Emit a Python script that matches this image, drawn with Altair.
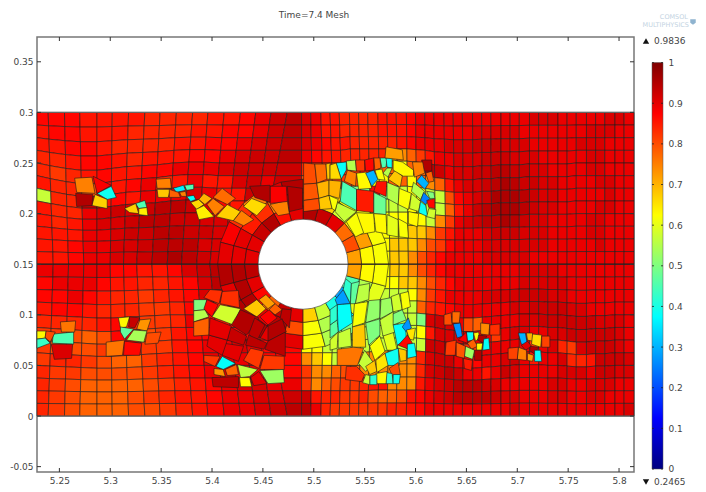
import math
import altair as alt

alt.data_transformers.disable_max_rows()

TITLE = "Time=7.4  Mesh"
X_TICKS = [5.25, 5.3, 5.35, 5.4, 5.45, 5.5, 5.55, 5.6, 5.65, 5.7, 5.75, 5.8]
Y_TICKS = [-0.05, 0, 0.05, 0.1, 0.15, 0.2, 0.25, 0.3, 0.35]
BAR_TICKS = [0, 0.1, 0.2, 0.3, 0.4, 0.5, 0.6, 0.7, 0.8, 0.9, 1]
VMAX, VMIN = 0.9836, 0.2465
JET_VALUES = [0, 0.125, 0.375, 0.625, 0.875, 1]
JET_COLORS = ["#00007f", "#0000ff", "#00ffff", "#ffff00", "#ff0000", "#7f0000"]

# mesh column lines at the top/bottom edges and on the mid line y=0.15
LEFT_TOP = [5.228, 5.239, 5.255, 5.270, 5.287, 5.302, 5.318, 5.334, 5.349, 5.365, 5.381, 5.396, 5.412, 5.428, 5.443, 5.458, 5.474, 5.488]
LEFT_MID = [5.228, 5.244, 5.259, 5.274, 5.287, 5.300, 5.313, 5.326, 5.341, 5.356, 5.370, 5.385, 5.398, 5.411, 5.424, 5.437, 5.446, 5.488]
RIGHT_TOP = [5.497, 5.507, 5.516, 5.525, 5.535, 5.544, 5.553, 5.563, 5.572, 5.581, 5.591, 5.600, 5.609, 5.618, 5.628, 5.637, 5.646, 5.656, 5.665, 5.674, 5.684, 5.693, 5.702, 5.712, 5.721, 5.730, 5.740, 5.749, 5.758, 5.768, 5.777, 5.786, 5.796, 5.805, 5.8147]
RIGHT_MID = [5.500, 5.511, 5.521, 5.530, 5.539, 5.548, 5.557, 5.566, 5.575, 5.584, 5.593, 5.602, 5.611, 5.620, 5.630, 5.639, 5.648, 5.657, 5.666, 5.675, 5.684, 5.693, 5.702, 5.712, 5.721, 5.730, 5.740, 5.749, 5.758, 5.768, 5.777, 5.786, 5.796, 5.805, 5.8147]
ROW_LINES = [0.3, 0.2875, 0.275, 0.2625, 0.25, 0.2375, 0.225, 0.2125, 0.2, 0.1875, 0.175, 0.1625, 0.15, 0.1375, 0.125, 0.1125, 0.1, 0.0875, 0.075, 0.0625, 0.05, 0.0375, 0.025, 0.0125, 0.0]
ROW_WEIGHT = [0, .25, .5, .7, .9, 1, 1, .9, .7, .5, .3, .15, 0, .15, .4, .6, .8, 1, 1, .9, .7, .5, .3, .15, 0]
UPPER_SAG = [0, -.003, -.006, -.008, -.008, -.006, -.004, -.003, -.002, 0, .001, .001, 0, 0, 0, 0, 0, 0,
             0, 0, 0, 0, .002, .002, .002, .002, .002, .002, .002, .001, 0, -.002, -.003, -.004, -.004, -.004, -.003, -.003, -.002, -.002, -.002, -.001, -.001, -.001, -.001, -.001, 0, 0, 0, 0, 0, 0, 0]
LOWER_SAG = [0, -.001, -.002, -.003, -.004, -.004, -.003, -.002, -.001, 0, 0, 0, 0, 0, 0, 0, 0, 0,
             0, 0, 0, 0, 0, 0, .001, .002, .002, .002, .002, .002, .001, 0, -.002, -.003, -.004, -.004, -.003, -.002, -.001, 0, .001, .001, .001, 0, 0, -.001, -.002, -.002, -.001, -.001, 0, 0, 0]

LEVELS = {"a": .78, "b": .80, "c": .82, "d": .84, "e": .855, "f": .87, "g": .895, "h": .912, "i": .925, "j": .94, "k": .955,
          "Y": .625, "G": .68, "O": .74, "L": .57, "M": .5, "C": .38}

LEFT_CELLS = [
    "fffeeeeddddeefgij",
    "effeeeddddeeffgij",
    "eeffeddddeeffghij",
    "ddeffedeeeffghiij",
    "dcdefeeffggghiiii",
    "eddbfefgdegeehigi",
    "Lddiefeggghgeeihi",
    "eddghihijjihfefhi",
    "edeghhijjiihhfghi",
    "eeegghiijjiihghhh",
    "eefgghhijjjhhggii",
    "eefgghhijkjihghii",
    "gggggffeefhijkjih",
    "fgggfeeddefhjjihh",
    "ffgfeddcdefhihgee",
    "effedddccdfgdeeee",
    "ddddefdccdgfeeeee",
    "ccbabfgbceffgffee",
    "cbbbcedccefgghgff",
    "cddcbaacdefggghff",
    "dccbbbbcdefghfgff",
    "dcbaaaabcdefghhgg",
    "dcbaaabcdeefgghhi",
    "dcbaaabbcdefgghij",
]
RIGHT_CELLS = [
    "hgeeddddeeefgggggggggggghhhggggghhgg",
    "hgeeddddeeefgggggghhhhhggggggghhhgg",
    "hgfeedddddefggghhhiiihhhggggghhhggg",
    "gfeedddddOOacegghhhiiihhhggggghhggg",
    "dccbdceeaaYaajighhiijjiihhgggghhggg",
    "bbcccbbYYaaYaOaeghhijkjiihhgggghhgg",
    "aaaaMMMfMLLYYLLbfghikkkjihhggggghgg",
    "aaaaMMMMLLLYYLLaegijkkkjihhgggghhgg",
    "aaaaYYYYYYYYYLOcghijjkjihhgggghhggg",
    "aaaaaYYYYYYGGOceggghiiihhhgggghhggg",
    "aabaaaOOYGGGObcfggghhhhhhhggggghggg",
    "aaaaaOGYYGGObdfgggghhhhhggggggggggg",
    "aaaaaaGYYGGObdfgggggggghhhhgggggggg",
    "aaaaaaYYYYGGObdfggggggghhhhhggggggg",
    "aaaaaaLLLLLYOcegggghhhhiiihhggggggg",
    "LLLLLLLLLLLLadefgggggghhiiiihhggggg",
    "GLMCMLLLLLLLMhihgbagggghhiiiiiihhhg",
    "YLLMCLLLLLLLYehhhiggcghhgghhiiiiihg",
    "YYLLLLLLLLLLLiiigdcgggggcghdchiiihg",
    "OGYLLLOOOOOOdhiigffgghigegghddeiiih",
    "cOOabaOOOOOOdhijiggegihgggghhhgiihh",
    "cOabccdeeOOOeghijjjihggggghhgghhhgg",
    "ieddccdbaabefghijjjjihhggghhgghhggg",
    "jgdccccccddefggggggggghgggggggggggh",
]

# rings of elements round the cylinder
CYL_X, CYL_Y = 5.4895, 0.15
RING_RADII = [0.043, 0.0575, 0.0705, 0.084]
RING_ANGLES = [0, 15, 30, 45, 60, 75, 90, 105, 120, 135, 150, 165, 180, 195, 210, 225, 240, 255, 270, 285, 300, 315, 330, 345, 360]
RING_1 = [.72, .8, .77, .9, .93, .95, .9, .86, .95, .93, .9, .9, .94, .9, .87, .78, .93, .9, .67, .57, .4, .28, .45, .72]
RING_2 = [.63, .72, .64, .58, .67, .75, .95, .76, .83, .85, .9, .9, .95, .95, .95, .9, .94, .8, .62, .55, .38, .6, .55, .63]
RING_3 = [.62, .62, .62, .62, .68, .8, .95, .9, .75, .83, .88, .9, .95, .9, .95, .95, .9, .9, .62, .55, .5, .55, .6, .62]

# irregular elements: (value, x vertices, y vertices)
PATCHES_UPPER_LEFT = [
    (.39, (5.287, 5.301, 5.306, 5.297), (.220, .227, .216, .214)),
    (.67, (5.285, 5.297, 5.297, 5.282), (.219, .214, .205, .208)),
    (.45, (5.325, 5.334, 5.336, 5.328), (.210, .213, .206, .205)),
    (.67, (5.314, 5.325, 5.328, 5.319), (.205, .210, .200, .201)),
    (.64, (5.328, 5.336, 5.337, 5.328), (.205, .206, .198, .199)),
    (.75, (5.265, 5.282, 5.285, 5.267), (.235, .236, .220, .221)),
    (.88, (5.283, 5.301, 5.287), (.237, .228, .220)),
    (.95, (5.266, 5.283, 5.282, 5.267), (.220, .219, .208, .207)),
    (.75, (5.345, 5.359, 5.360, 5.346), (.234, .235, .225, .225)),
    (.68, (5.346, 5.359, 5.357, 5.347), (.224, .224, .216, .216)),
    (.36, (5.362, 5.372, 5.374, 5.365), (.225, .228, .223, .221)),
    (.45, (5.373, 5.382, 5.382, 5.375), (.228, .229, .224, .223)),
    (.78, (5.358, 5.367, 5.369, 5.358), (.224, .221, .216, .216)),
    (.75, (5.368, 5.374, 5.375, 5.370), (.221, .222, .217, .217)),
    (.38, (5.375, 5.382, 5.384, 5.379), (.217, .218, .214, .212)),
    (.66, (5.379, 5.387, 5.392, 5.385), (.211, .214, .209, .204)),
    (.64, (5.384, 5.392, 5.402, 5.387), (.204, .208, .197, .194)),
    (.70, (5.387, 5.392, 5.400, 5.393), (.214, .220, .215, .209)),
    (.75, (5.395, 5.401, 5.412, 5.403), (.209, .215, .207, .198)),
    (.67, (5.404, 5.415, 5.428, 5.421), (.197, .209, .202, .193)),
    (.66, (5.431, 5.439, 5.454, 5.444), (.207, .215, .209, .198)),
    (.75, (5.421, 5.429, 5.441, 5.431), (.193, .203, .194, .188)),
    (.75, (5.457, 5.474, 5.476, 5.465), (.209, .213, .200, .198)),
    (.77, (5.401, 5.410, 5.423, 5.415), (.216, .225, .215, .209)),
    (.88, (5.457, 5.473, 5.474, 5.457), (.227, .227, .212, .210)),
    (.95, (5.437, 5.457, 5.457, 5.442), (.227, .228, .211, .216)),
    (.95, (5.474, 5.489, 5.489, 5.476), (.227, .225, .205, .202)),
]
PATCHES_UPPER_RIGHT = [
    (.80, (5.490, 5.501, 5.503, 5.490), (.250, .249, .230, .229)),
    (.77, (5.501, 5.512, 5.513, 5.503), (.249, .249, .234, .230)),
    (.79, (5.490, 5.503, 5.505, 5.490), (.229, .230, .215, .213)),
    (.70, (5.503, 5.515, 5.515, 5.505), (.230, .233, .218, .215)),
    (.80, (5.490, 5.505, 5.506, 5.490), (.213, .215, .204, .202)),
    (.68, (5.505, 5.515, 5.518, 5.506), (.215, .218, .205, .204)),
    (.68, (5.512, 5.516, 5.516, 5.513), (.249, .250, .234, .234)),
    (.38, (5.522, 5.532, 5.532, 5.527), (.250, .251, .243, .234)),
    (.55, (5.532, 5.541, 5.542, 5.533), (.252, .253, .242, .243)),
    (.75, (5.533, 5.542, 5.541, 5.530), (.243, .240, .227, .232)),
    (.63, (5.542, 5.552, 5.557, 5.544), (.240, .241, .225, .224)),
    (.30, (5.551, 5.559, 5.563, 5.557), (.240, .243, .234, .227)),
    (.86, (5.562, 5.572, 5.571, 5.559), (.232, .232, .217, .222)),
    (.62, (5.560, 5.567, 5.570, 5.563), (.243, .244, .233, .234)),
    (.45, (5.565, 5.572, 5.571, 5.567), (.255, .255, .246, .245)),
    (.39, (5.571, 5.577, 5.577, 5.572), (.255, .255, .245, .246)),
    (.55, (5.572, 5.577, 5.573, 5.568), (.245, .245, .236, .240)),
    (.45, (5.528, 5.542, 5.542, 5.526), (.232, .224, .203, .212)),
    (.85, (5.542, 5.559, 5.559, 5.542), (.224, .222, .201, .203)),
    (.48, (5.559, 5.571, 5.571, 5.559), (.221, .215, .199, .200)),
    (.55, (5.572, 5.584, 5.583, 5.572), (.231, .226, .209, .215)),
    (.68, (5.573, 5.580, 5.587, 5.585), (.234, .243, .237, .226)),
    (.62, (5.584, 5.596, 5.593, 5.583), (.225, .220, .204, .209)),
    (.58, (5.596, 5.605, 5.603, 5.594), (.220, .212, .202, .205)),
    (.55, (5.598, 5.609, 5.605, 5.596), (.231, .222, .214, .222)),
    (.30, (5.606, 5.613, 5.609, 5.601), (.238, .230, .224, .232)),
    (.25, (5.608, 5.614, 5.610, 5.605), (.221, .215, .209, .213)),
    (.87, (5.611, 5.619, 5.619, 5.613), (.213, .215, .205, .206)),
    (.39, (5.605, 5.610, 5.612, 5.603), (.212, .208, .197, .201)),
    (.58, (5.613, 5.620, 5.619, 5.611), (.205, .204, .195, .197)),
    (.50, (5.611, 5.618, 5.619, 5.614), (.222, .221, .215, .215)),
    (.78, (5.610, 5.616, 5.618, 5.613), (.240, .242, .232, .231)),
    (.95, (5.606, 5.616, 5.616, 5.608), (.253, .253, .242, .242)),
    (.63, (5.578, 5.587, 5.598, 5.598, 5.588, 5.578), (.253, .251, .243, .237, .237, .243)),
    (.75, (5.597, 5.607, 5.609, 5.599), (.251, .251, .240, .236)),
    (.72, (5.571, 5.587, 5.588, 5.570), (.266, .263, .253, .255)),
    (.82, (5.541, 5.550, 5.550, 5.542), (.253, .253, .242, .242)),
    (.87, (5.550, 5.559, 5.559, 5.551), (.253, .255, .243, .242)),
    (.78, (5.559, 5.565, 5.566, 5.560), (.255, .255, .245, .243)),
    (.66, (5.516, 5.522, 5.527, 5.516), (.248, .250, .234, .234)),
    (.70, (5.515, 5.527, 5.525, 5.515), (.233, .232, .215, .218)),
    (.57, (5.523, 5.542, 5.530, 5.521), (.211, .202, .192, .202)),
    (.62, (5.515, 5.524, 5.521, 5.518), (.218, .214, .203, .205)),
    (.63, (5.542, 5.559, 5.560, 5.543), (.201, .200, .182, .179)),
    (.62, (5.532, 5.542, 5.549, 5.541), (.192, .201, .181, .177)),
    (.63, (5.559, 5.571, 5.572, 5.561), (.200, .199, .180, .182)),
    (.60, (5.572, 5.583, 5.583, 5.572), (.199, .194, .177, .179)),
    (.62, (5.583, 5.592, 5.593, 5.584), (.195, .190, .176, .177)),
    (.63, (5.593, 5.603, 5.602, 5.593), (.202, .200, .187, .190)),
]
PATCHES_LOWER_RIGHT = [
    (.28, (5.521, 5.529, 5.536, 5.523), (.115, .125, .111, .110)),
    (.42, (5.531, 5.537, 5.536, 5.529), (.136, .131, .111, .125)),
    (.47, (5.537, 5.545, 5.541, 5.536), (.131, .133, .111, .111)),
    (.56, (5.544, 5.555, 5.554, 5.541), (.129, .131, .115, .111)),
    (.38, (5.523, 5.536, 5.538, 5.524), (.110, .111, .092, .083)),
    (.62, (5.540, 5.553, 5.550, 5.538), (.111, .113, .092, .088)),
    (.52, (5.554, 5.565, 5.565, 5.551), (.114, .115, .097, .092)),
    (.53, (5.566, 5.576, 5.578, 5.565), (.115, .117, .103, .096)),
    (.58, (5.576, 5.584, 5.587, 5.578), (.118, .121, .105, .103)),
    (.62, (5.585, 5.593, 5.595, 5.587), (.121, .123, .108, .105)),
    (.46, (5.516, 5.523, 5.524, 5.516), (.090, .095, .083, .077)),
    (.42, (5.516, 5.523, 5.523, 5.516), (.105, .110, .095, .090)),
    (.58, (5.516, 5.524, 5.523, 5.516), (.075, .083, .067, .065)),
    (.57, (5.524, 5.536, 5.537, 5.524), (.082, .087, .069, .067)),
    (.68, (5.538, 5.550, 5.551, 5.538), (.088, .091, .068, .068)),
    (.50, (5.551, 5.565, 5.565, 5.554), (.092, .096, .080, .070)),
    (.76, (5.523, 5.539, 5.549, 5.543, 5.523), (.066, .068, .067, .050, .050)),
    (.62, (5.555, 5.565, 5.570, 5.560), (.069, .079, .064, .055)),
    (.57, (5.544, 5.550, 5.559, 5.551), (.052, .065, .052, .044)),
    (.60, (5.568, 5.578, 5.582, 5.572), (.080, .083, .065, .065)),
    (.57, (5.565, 5.578, 5.580, 5.568), (.095, .103, .083, .079)),
    (.50, (5.578, 5.587, 5.591, 5.578), (.101, .105, .095, .090)),
    (.38, (5.578, 5.590, 5.591, 5.582), (.090, .092, .075, .070)),
    (.27, (5.587, 5.593, 5.596, 5.591), (.088, .097, .087, .083)),
    (.65, (5.591, 5.600, 5.598, 5.594), (.085, .087, .075, .076)),
    (.87, (5.583, 5.592, 5.597, 5.593), (.070, .080, .072, .066)),
    (.68, (5.583, 5.591, 5.591, 5.585), (.067, .065, .055, .054)),
    (.38, (5.592, 5.599, 5.601, 5.592), (.071, .072, .059, .057)),
    (.39, (5.570, 5.583, 5.584, 5.572), (.062, .067, .050, .050)),
    (.80, (5.574, 5.583, 5.585, 5.577), (.047, .053, .041, .040)),
    (.42, (5.571, 5.577, 5.578, 5.571), (.043, .042, .032, .032)),
    (.39, (5.578, 5.585, 5.584, 5.578), (.041, .041, .032, .032)),
    (.63, (5.561, 5.572, 5.571, 5.562), (.042, .044, .032, .032)),
    (.68, (5.551, 5.560, 5.562, 5.555), (.049, .055, .044, .041)),
    (.42, (5.555, 5.562, 5.562, 5.555), (.040, .041, .031, .031)),
    (.57, (5.548, 5.551, 5.555, 5.555), (.033, .041, .040, .031)),
    (.83, (5.532, 5.542, 5.550, 5.547, 5.531), (.049, .049, .041, .034, .036)),
    (.65, (5.561, 5.570, 5.573, 5.562), (.055, .062, .050, .043)),
    (.27, (5.637, 5.644, 5.646, 5.641), (.091, .092, .079, .077)),
    (.38, (5.650, 5.657, 5.657, 5.651), (.083, .083, .075, .074)),
    (.62, (5.657, 5.662, 5.663, 5.659), (.082, .083, .077, .074)),
    (.74, (5.664, 5.673, 5.672, 5.664), (.092, .091, .080, .081)),
    (.88, (5.642, 5.650, 5.651), (.075, .083, .072)),
    (.95, (5.662, 5.670, 5.667, 5.661), (.080, .079, .072, .075)),
    (.78, (5.651, 5.657, 5.661, 5.655), (.072, .076, .069, .066)),
    (.63, (5.660, 5.666, 5.665, 5.660), (.072, .072, .065, .065)),
    (.38, (5.667, 5.672, 5.673, 5.666), (.076, .077, .066, .065)),
    (.53, (5.649, 5.658, 5.656, 5.648), (.069, .065, .056, .059)),
    (.82, (5.630, 5.640, 5.639, 5.629), (.073, .075, .060, .060)),
    (.79, (5.640, 5.649, 5.648, 5.640), (.073, .069, .057, .059)),
    (.80, (5.628, 5.635, 5.636, 5.628), (.100, .102, .090, .090)),
    (.77, (5.636, 5.644, 5.643, 5.636), (.103, .103, .092, .092)),
    (.83, (5.673, 5.683, 5.683, 5.673), (.090, .091, .080, .080)),
    (.95, (5.658, 5.665, 5.665, 5.658), (.065, .065, .055, .055)),
    (.85, (5.647, 5.656, 5.655, 5.648), (.057, .055, .045, .047)),
    (.30, (5.701, 5.708, 5.710, 5.704), (.082, .082, .070, .071)),
    (.70, (5.709, 5.715, 5.715, 5.710), (.082, .082, .074, .075)),
    (.66, (5.715, 5.724, 5.723, 5.714), (.081, .080, .068, .071)),
    (.81, (5.724, 5.732, 5.732, 5.724), (.079, .079, .068, .068)),
    (.90, (5.704, 5.710, 5.714, 5.708), (.070, .074, .069, .065)),
    (.95, (5.713, 5.721, 5.717, 5.712), (.069, .068, .061, .065)),
    (.75, (5.701, 5.709, 5.709, 5.700), (.068, .065, .055, .056)),
    (.81, (5.691, 5.701, 5.700, 5.691), (.067, .068, .056, .056)),
    (.72, (5.710, 5.716, 5.715, 5.710), (.062, .060, .054, .055)),
    (.38, (5.717, 5.723, 5.724, 5.717), (.065, .065, .054, .054)),
]
PATCHES_LOWER_LEFT = [
    (.63, (5.228, 5.237, 5.236, 5.228), (.084, .084, .077, .076)),
    (.43, (5.228, 5.236, 5.241, 5.228), (.076, .077, .072, .067)),
    (.45, (5.244, 5.264, 5.264, 5.243), (.081, .083, .071, .072)),
    (.91, (5.242, 5.263, 5.262, 5.245), (.071, .071, .057, .056)),
    (.76, (5.251, 5.266, 5.265, 5.252), (.093, .094, .083, .083)),
    (.80, (5.237, 5.246, 5.241, 5.236), (.084, .083, .073, .078)),
    (.63, (5.308, 5.319, 5.316, 5.310), (.097, .098, .088, .087)),
    (.93, (5.319, 5.329, 5.324, 5.318), (.098, .097, .087, .088)),
    (.73, (5.329, 5.340, 5.336, 5.326), (.095, .096, .084, .086)),
    (.47, (5.310, 5.323, 5.314, 5.310), (.088, .086, .076, .083)),
    (.54, (5.323, 5.336, 5.333, 5.316), (.085, .084, .073, .075)),
    (.76, (5.296, 5.314, 5.312, 5.296), (.073, .075, .060, .059)),
    (.87, (5.314, 5.331, 5.329, 5.313), (.074, .072, .060, .060)),
    (.80, (5.336, 5.350, 5.347, 5.334), (.082, .083, .072, .071)),
    (.50, (5.382, 5.395, 5.393, 5.382), (.115, .115, .105, .104)),
    (.55, (5.382, 5.393, 5.397, 5.382), (.104, .105, .098, .093)),
    (.78, (5.382, 5.397, 5.397, 5.382), (.093, .097, .080, .079)),
    (.87, (5.395, 5.406, 5.400, 5.392), (.115, .110, .098, .106)),
    (.58, (5.408, 5.428, 5.421, 5.400), (.110, .106, .090, .098)),
    (.83, (5.410, 5.426, 5.427, 5.408), (.123, .124, .107, .111)),
    (.83, (5.398, 5.410, 5.407, 5.392), (.125, .124, .111, .117)),
    (.68, (5.431, 5.444, 5.453, 5.444), (.106, .115, .106, .098)),
    (.72, (5.446, 5.453, 5.462, 5.455), (.115, .120, .111, .106)),
    (.78, (5.456, 5.462, 5.469, 5.462), (.105, .111, .105, .100)),
    (.88, (5.447, 5.456, 5.464, 5.455), (.098, .105, .097, .090)),
    (.95, (5.428, 5.446, 5.434, 5.419), (.105, .097, .080, .090)),
    (.94, (5.469, 5.478, 5.476, 5.467), (.106, .105, .087, .097)),
    (.94, (5.442, 5.452, 5.444, 5.436), (.097, .090, .074, .081)),
    (.93, (5.418, 5.434, 5.431, 5.415), (.088, .079, .070, .075)),
    (.95, (5.455, 5.469, 5.473, 5.455), (.089, .096, .083, .074)),
    (.94, (5.436, 5.454, 5.451, 5.433), (.080, .072, .066, .070)),
    (.94, (5.455, 5.472, 5.472, 5.452), (.074, .083, .059, .066)),
    (.82, (5.431, 5.438, 5.451, 5.446), (.055, .067, .064, .047)),
    (.82, (5.451, 5.471, 5.471, 5.447), (.060, .059, .046, .046)),
    (.90, (5.411, 5.431, 5.426, 5.410), (.072, .069, .054, .060)),
    (.90, (5.397, 5.415, 5.410, 5.395), (.080, .075, .060, .069)),
    (.90, (5.398, 5.419, 5.415, 5.397), (.097, .089, .075, .080)),
    (.82, (5.392, 5.408, 5.403, 5.392), (.060, .059, .049, .054)),
    (.38, (5.404, 5.410, 5.423, 5.411), (.049, .059, .052, .046)),
    (.73, (5.402, 5.411, 5.413, 5.402), (.047, .046, .039, .041)),
    (.78, (5.413, 5.424, 5.426, 5.415), (.046, .051, .041, .040)),
    (.56, (5.425, 5.445, 5.437, 5.428), (.051, .046, .039, .038)),
    (.63, (5.427, 5.437, 5.439, 5.428), (.038, .038, .029, .029)),
    (.90, (5.438, 5.446, 5.454, 5.441), (.038, .044, .032, .030)),
    (.53, (5.447, 5.470, 5.471, 5.455), (.045, .046, .033, .032)),
    (.94, (5.400, 5.426, 5.426, 5.401), (.038, .039, .028, .029)),
]

rows = []
cell_id = 0


def add_cell(value, xs, ys):
    global cell_id
    pts = list(zip(xs, ys))
    pts.append(pts[0])
    for n, (px, py) in enumerate(pts):
        rows.append({"cell": cell_id, "ord": n, "x": px, "y": py, "v": value})
    cell_id += 1


col_top = LEFT_TOP + RIGHT_TOP
col_mid = LEFT_MID + RIGHT_MID


def vertex(k, j):
    yl = ROW_LINES[j]
    t = abs(yl - 0.15) / 0.15
    x = col_mid[k] + (col_top[k] - col_mid[k]) * t
    sag = UPPER_SAG[k] if j <= 12 else LOWER_SAG[k]
    return x, yl + ROW_WEIGHT[j] * sag


for j in range(24):
    line = (LEFT_CELLS[j] + RIGHT_CELLS[j]).ljust(52, "g")
    for k in range(52):
        corners = [vertex(k, j), vertex(k + 1, j), vertex(k + 1, j + 1), vertex(k, j + 1)]
        add_cell(LEVELS[line[k]], [c[0] for c in corners], [c[1] for c in corners])

for ring, vals in enumerate([RING_3, RING_2, RING_1]):
    r0, r1 = RING_RADII[2 - ring], RING_RADII[3 - ring]
    for s, val in enumerate(vals):
        a0, a1 = math.radians(RING_ANGLES[s]), math.radians(RING_ANGLES[s + 1])
        add_cell(val,
                 [CYL_X + r0 * math.cos(a0), CYL_X + r1 * math.cos(a0), CYL_X + r1 * math.cos(a1), CYL_X + r0 * math.cos(a1)],
                 [CYL_Y + r0 * math.sin(a0), CYL_Y + r1 * math.sin(a0), CYL_Y + r1 * math.sin(a1), CYL_Y + r0 * math.sin(a1)])

for group in (PATCHES_UPPER_LEFT, PATCHES_UPPER_RIGHT, PATCHES_LOWER_RIGHT, PATCHES_LOWER_LEFT):
    for val, xs, ys in group:
        add_cell(val, xs, ys)

XS = alt.Scale(domain=[5.228, 5.8147], nice=False, zero=False)
YS = alt.Scale(domain=[-0.0553, 0.3745], nice=False, zero=False)
JET = alt.Scale(domain=JET_VALUES, range=JET_COLORS, interpolate="rgb")
W, H = 597, 435
TEXT = "#444444"
LABEL = "'' + round(datum.value * 100) / 100"

mesh = alt.Chart(alt.Data(values=rows)).mark_line(stroke="#1c1c1c", strokeWidth=0.7, strokeOpacity=0.85).encode(
    x=alt.X("x:Q", scale=XS, title=None,
            axis=alt.Axis(values=X_TICKS, ticks=False, domain=False, grid=False, labelExpr=LABEL, labelPadding=4,
                          labelFontSize=9, labelColor=TEXT, labelFont="DejaVu Sans")),
    y=alt.Y("y:Q", scale=YS, title=None,
            axis=alt.Axis(values=Y_TICKS, ticks=False, domain=False, grid=False, labelExpr=LABEL, labelPadding=4,
                          labelFontSize=9, labelColor=TEXT, labelFont="DejaVu Sans")),
    detail="cell:N",
    order="ord:Q",
    fill=alt.Fill("v:Q", scale=JET, legend=None),
)

edges = alt.Chart(alt.Data(values=[{"y": 0.3}, {"y": 0}])).mark_rule(color="#666666", strokeWidth=1.2).encode(
    y=alt.Y("y:Q", scale=YS))
midline = alt.Chart(alt.Data(values=[{"y": CYL_Y}])).mark_rule(color="#222222", strokeWidth=1).encode(
    y=alt.Y("y:Q", scale=YS))
hole = alt.Chart(alt.Data(values=[{"x": CYL_X, "y": CYL_Y}])).mark_point(
    filled=True, fill="white", fillOpacity=1, stroke="#333333", strokeWidth=0.6, size=8100, shape="circle").encode(
    x=alt.X("x:Q", scale=XS), y=alt.Y("y:Q", scale=YS))

xt = alt.Data(values=[{"x": v} for v in X_TICKS])
yt = alt.Data(values=[{"y": v} for v in Y_TICKS])
TICK = dict(color="#333333", strokeWidth=1)
ticks = [
    alt.Chart(xt).mark_rule(**TICK).encode(x=alt.X("x:Q", scale=XS), y=alt.value(0), y2=alt.value(4)),
    alt.Chart(xt).mark_rule(**TICK).encode(x=alt.X("x:Q", scale=XS), y=alt.value(H - 4), y2=alt.value(H)),
    alt.Chart(yt).mark_rule(**TICK).encode(y=alt.Y("y:Q", scale=YS), x=alt.value(0), x2=alt.value(4)),
    alt.Chart(yt).mark_rule(**TICK).encode(y=alt.Y("y:Q", scale=YS), x=alt.value(W - 4), x2=alt.value(W)),
]
title = alt.Chart(alt.Data(values=[{"x": 5.5003, "y": 0.396, "t": TITLE}])).mark_text(
    fontSize=9, font="DejaVu Sans", color=TEXT, align="center", baseline="middle").encode(
    x=alt.X("x:Q", scale=XS), y=alt.Y("y:Q", scale=YS), text="t:N")

main = alt.layer(mesh, edges, hole, midline, *ticks, title).properties(width=W, height=H)

BS = alt.Scale(domain=[-0.0074, 1.063], nice=False, zero=False)
BAR_W = 11
grad = alt.Gradient(gradient="linear", x1=0, y1=1, x2=0, y2=0,
                    stops=[alt.GradientStop(offset=o, color=c) for o, c in zip(JET_VALUES, JET_COLORS)])
bar = alt.Chart(alt.Data(values=[{"a": 0, "b": 1}])).mark_rect(fill=grad, stroke="#555555", strokeWidth=0.5).encode(
    x=alt.value(0), x2=alt.value(BAR_W),
    y=alt.Y("a:Q", scale=BS, title=None,
            axis=alt.Axis(orient="right", values=BAR_TICKS, ticks=False, domain=False, grid=False, labelExpr=LABEL,
                          labelPadding=5, labelFontSize=9, labelColor=TEXT, labelFont="DejaVu Sans")),
    y2="b:Q",
)
bt = alt.Data(values=[{"y": v} for v in BAR_TICKS])
bt1 = alt.Chart(bt).mark_rule(color="#222222", strokeWidth=0.8).encode(y=alt.Y("y:Q", scale=BS), x=alt.value(0), x2=alt.value(2))
bt2 = alt.Chart(bt).mark_rule(color="#222222", strokeWidth=0.8).encode(y=alt.Y("y:Q", scale=BS), x=alt.value(BAR_W - 2), x2=alt.value(BAR_W))
ext = alt.Data(values=[{"y": 1.053, "t": str(VMAX), "s": "triangle-up"}, {"y": -0.032, "t": str(VMIN), "s": "triangle-down"}])
ext_text = alt.Chart(ext).mark_text(fontSize=9, font="DejaVu Sans", color=TEXT, align="left", baseline="middle").encode(
    y=alt.Y("y:Q", scale=BS), x=alt.value(2), text="t:N")
ext_mark = alt.Chart(ext).mark_point(filled=True, color="#111111", size=40, opacity=1).encode(
    y=alt.Y("y:Q", scale=BS), x=alt.value(-6), shape=alt.Shape("s:N", scale=None))
logo1 = alt.Chart(alt.Data(values=[{"y": 1.1116, "t": "COMSOL"}])).mark_text(
    fontSize=6.5, font="DejaVu Sans", color="#c3d3e2", align="right", baseline="middle").encode(
    y=alt.Y("y:Q", scale=BS), x=alt.value(36), text="t:N")
logo2 = alt.Chart(alt.Data(values=[{"y": 1.093, "t": "MULTIPHYSICS"}])).mark_text(
    fontSize=6.5, font="DejaVu Sans", color="#c3d3e2", align="right", baseline="middle").encode(
    y=alt.Y("y:Q", scale=BS), x=alt.value(37), text="t:N")
shield = alt.Chart(alt.Data(values=[{"y": 1.1}])).mark_point(filled=True, color="#8fb3cf", opacity=1, size=30,
    shape="M-1,-1L1,-1L1,0.3L0,1L-1,0.3Z").encode(y=alt.Y("y:Q", scale=BS), x=alt.value(41))

side = alt.layer(bar, bt1, bt2, ext_mark, ext_text, logo1, logo2, shield).properties(
    width=BAR_W, height=H, view=alt.ViewConfig(stroke="transparent"))

chart = alt.hconcat(main, side, spacing=4).properties(padding={"left": 0, "top": 2, "right": 0, "bottom": 0}).configure_view(
    stroke="#777777", strokeWidth=1.5)

chart.save("out.html", embed_options={"renderer": "svg", "actions": False})
